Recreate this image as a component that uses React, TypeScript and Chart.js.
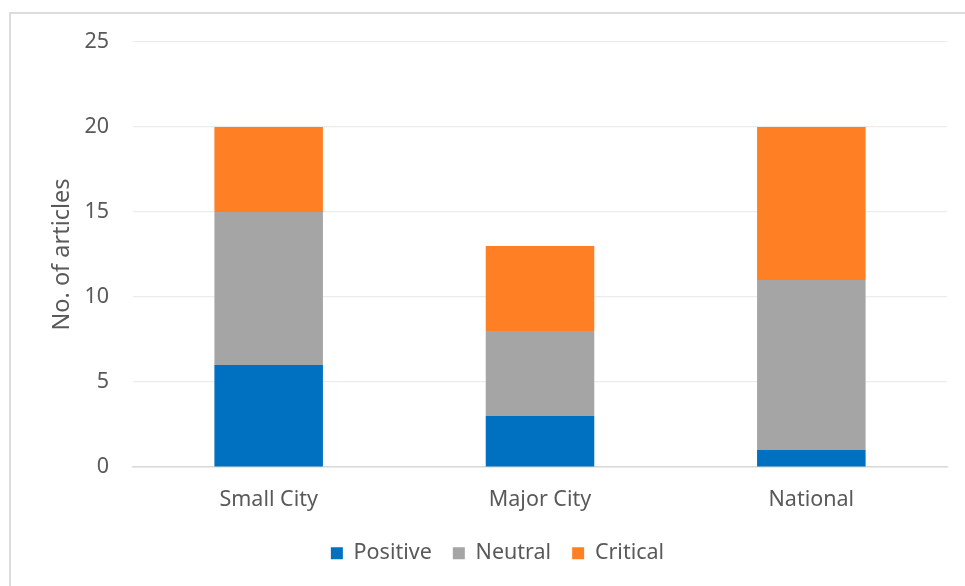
import React, { useEffect, useRef } from "react";
import { Chart, registerables } from "chart.js";

Chart.register(...registerables);

const categories = ["Small City", "Major City", "National"];
const positive = [6, 3, 1];
const neutral = [9, 5, 10];
const critical = [5, 5, 9];
const yTicks = [0, 5, 10, 15, 20, 25];

const FONT = "'Noto Sans', 'Open Sans', sans-serif";
const TEXT = "#595959";

export default function App() {
  const ref = useRef<HTMLCanvasElement>(null);
  useEffect(() => {
    if (!ref.current) return;
    const chart = new Chart(ref.current, {
      type: "bar",
      data: {
        labels: categories,
        datasets: [
          { label: "Positive", data: positive, backgroundColor: "#0070C0" },
          { label: "Neutral", data: neutral, backgroundColor: "#A5A5A5" },
          { label: "Critical", data: critical, backgroundColor: "#FF7F24" },
        ],
      },
      options: {
        animation: false,
        responsive: false,
        maintainAspectRatio: false,
        layout: { padding: { top: 42, right: 18, bottom: 12, left: 48 } },
        datasets: { bar: { barPercentage: 0.4, categoryPercentage: 1 } },
        plugins: {
          tooltip: { enabled: false },
          legend: {
            position: "bottom",
            labels: {
              font: { family: FONT, size: 21.5 },
              color: TEXT,
              boxWidth: 12,
              boxHeight: 12,
              padding: 21,
            },
          },
        },
        scales: {
          x: {
            stacked: true,
            grid: { display: false, drawTicks: false },
            border: { display: true, color: "#d9d9d9", width: 1.5 },
            ticks: { font: { family: FONT, size: 21.5 }, color: TEXT, padding: 20 },
            afterFit: (s: any) => { s.height = 54.5; },
          },
          y: {
            stacked: true,
            min: 0,
            max: 25,
            afterBuildTicks: (s: any) => { s.ticks = yTicks.map((v) => ({ value: v })); },
            grid: { color: "#ececec", lineWidth: 1.2, drawTicks: false },
            border: { display: false },
            ticks: { font: { family: FONT, size: 21.5 }, color: TEXT, padding: 24 },
            title: {
              display: true,
              text: "No. of articles",
              font: { family: FONT, size: 23.5 },
              color: TEXT,
              padding: { top: 0, bottom: 0 },
            },
            afterFit: (s: any) => { s.width = 85; },
          },
        },
      },
    });
    return () => chart.destroy();
  }, []);
  return (
    <div style={{ position: "absolute", left: 0, top: 0, width: 965, height: 586, background: "#fff" }}>
      <div style={{ position: "absolute", left: 9, top: 12, width: 956, height: 574, borderTop: "2px solid #dcdcdc", borderLeft: "2px solid #dcdcdc" }} />
      <canvas ref={ref} width={965} height={586} style={{ position: "absolute", left: 0, top: 0 }} />
    </div>
  );
}
